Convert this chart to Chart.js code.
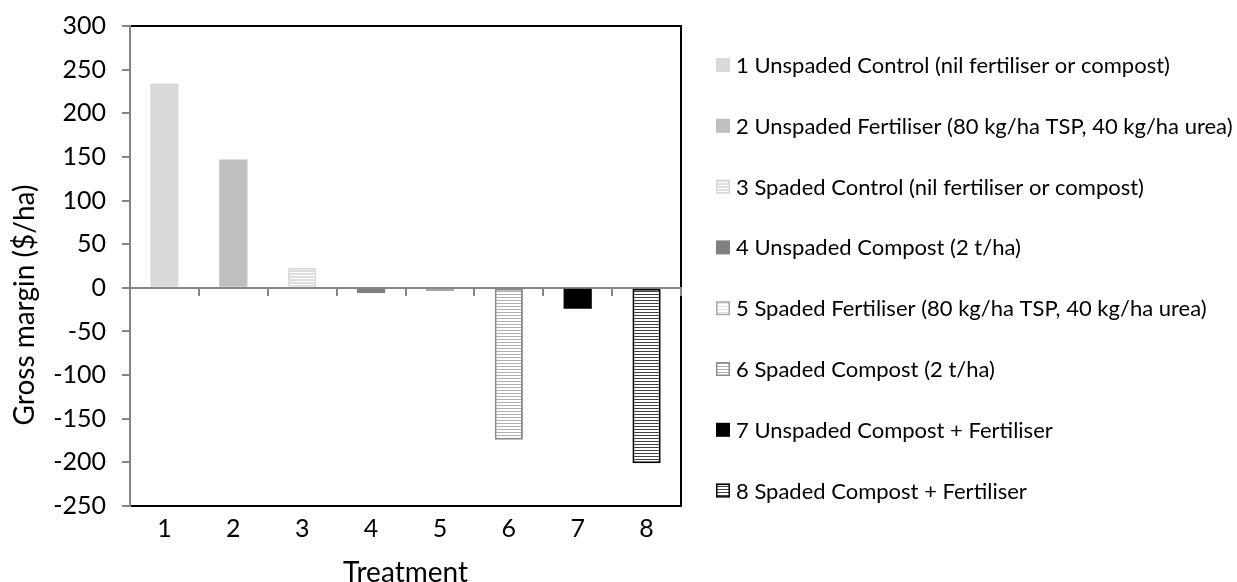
<!DOCTYPE html>
<html>
<head>
<meta charset="utf-8">
<title>Gross margin by treatment</title>
<script src="https://cdn.jsdelivr.net/npm/chart.js@4.4.0/dist/chart.umd.min.js"></script>
<style>
  html, body { margin: 0; padding: 0; background: #fff; }
  #wrap { position: relative; width: 1237px; height: 582px; }
</style>
</head>
<body>
<div id="wrap"><canvas id="chart"></canvas></div>
<script>
var treatments = ['1', '2', '3', '4', '5', '6', '7', '8'];
var treatmentNames = [
    '1 Unspaded Control (nil fertiliser or compost)',
    '2 Unspaded Fertiliser (80 kg/ha TSP, 40 kg/ha urea)',
    '3 Spaded Control (nil fertiliser or compost)',
    '4 Unspaded Compost (2 t/ha)',
    '5 Spaded Fertiliser (80 kg/ha TSP, 40 kg/ha urea)',
    '6 Spaded Compost (2 t/ha)',
    '7 Unspaded Compost + Fertiliser',
    '8 Spaded Compost + Fertiliser'
];
var grossMargin = [234, 147, 23, -6, -4, -174, -24, -201];
var yMin = -250, yMax = 300, yStep = 50;
var yTitle = 'Gross margin ($/ha)';
var xTitle = 'Treatment';

var FONT = 'Lato';
var ctx = document.getElementById('chart').getContext('2d');

// horizontal line fill, like the office "narrow horizontal" pattern
function stripes(bg, line, period, thick) {
    var c = document.createElement('canvas');
    c.width = 4;
    c.height = period;
    var p = c.getContext('2d');
    p.fillStyle = bg;
    p.fillRect(0, 0, 4, period);
    p.fillStyle = line;
    p.fillRect(0, 0, 4, thick);
    return ctx.createPattern(c, 'repeat');
}

var fills = [
    '#d9d9d9',
    '#bfbfbf',
    stripes('#ffffff', '#dedede', 3, 2),
    '#808080',
    stripes('#ffffff', '#e0e0e0', 3, 1),
    stripes('#ffffff', '#b0b0b0', 3, 1),
    '#000000',
    stripes('#ffffff', '#404040', 3, 1)
];
var edges = ['#d9d9d9', '#bfbfbf', '#d9d9d9', '#808080', '#a6a6a6', '#8c8c8c', '#000000', '#000000'];
var edgeWidths = [0, 0, 2, 0, 2, 2, 0, 2];

var plotBox = {
    id: 'plotBox',
    beforeDraw: function (chart) {
        var a = chart.chartArea, c = chart.ctx;
        c.save();
        c.strokeStyle = '#000';
        c.lineWidth = 2;
        c.strokeRect(a.left, a.top, a.right - a.left, a.bottom - a.top);
        c.restore();
    }
};

// legend down the right side + the y title, which sits below the axis middle
var sideText = {
    id: 'sideText',
    afterDraw: function (chart) {
        var a = chart.chartArea, c = chart.ctx;
        var x = a.right + 35;
        var y0 = a.top + 39;
        var gap = 60.8;
        c.save();
        c.font = '22px ' + FONT;
        c.textBaseline = 'middle';
        c.textAlign = 'left';
        treatmentNames.forEach(function (name, i) {
            var y = y0 + i * gap;
            c.fillStyle = fills[i];
            c.fillRect(x, y - 7, 14, 14);
            if (edgeWidths[i]) {
                c.strokeStyle = edges[i];
                c.lineWidth = 1.5;
                c.strokeRect(x + 0.75, y - 6.25, 12.5, 12.5);
            }
            c.fillStyle = '#000';
            c.fillText(name, x + 20, y + 1);
        });

        c.translate(25, a.top + 279);
        c.rotate(-Math.PI / 2);
        c.font = '28px ' + FONT;
        c.textAlign = 'center';
        c.fillText(yTitle, 0, 0);
        c.restore();
    }
};

new Chart(ctx, {
    type: 'bar',
    data: {
        labels: treatments,
        datasets: [{
            label: 'Gross margin',
            data: grossMargin,
            backgroundColor: fills,
            borderColor: edges,
            borderWidth: edgeWidths,
            borderSkipped: false,
            barPercentage: 0.41,
            categoryPercentage: 1
        }]
    },
    options: {
        responsive: true,
        maintainAspectRatio: false,
        animation: false,
        layout: { padding: { top: 26, right: 556, left: 0, bottom: 0 } },
        plugins: {
            legend: { display: false },
            tooltip: { enabled: false }
        },
        scales: {
            x: {
                grid: { display: false, drawTicks: false },
                border: { display: false },
                ticks: { color: '#000', font: { family: FONT, size: 25 }, padding: 8 },
                title: {
                    display: true,
                    text: xTitle,
                    color: '#000',
                    font: { family: FONT, size: 28, lineHeight: 0.65 },
                    padding: { top: 0, bottom: 0 }
                },
                afterFit: function (s) { s.height = 76; }
            },
            x2: {
                type: 'category',
                position: { y: 0 },
                grid: { drawOnChartArea: false, drawTicks: true, tickLength: 7, color: '#868686', lineWidth: 2, offset: true },
                border: { color: '#868686', width: 2 },
                ticks: { display: false }
            },
            y: {
                min: yMin,
                max: yMax,
                ticks: { stepSize: yStep, color: '#000', font: { family: FONT, size: 25, lineHeight: 0.4 }, padding: 16 },
                grid: { drawOnChartArea: false, drawTicks: true, tickLength: 8, color: '#868686', lineWidth: 2 },
                border: { color: '#868686', width: 2 },
                afterFit: function (s) { s.width = 130; }
            }
        }
    },
    plugins: [plotBox, sideText]
});
</script>
</body>
</html>
